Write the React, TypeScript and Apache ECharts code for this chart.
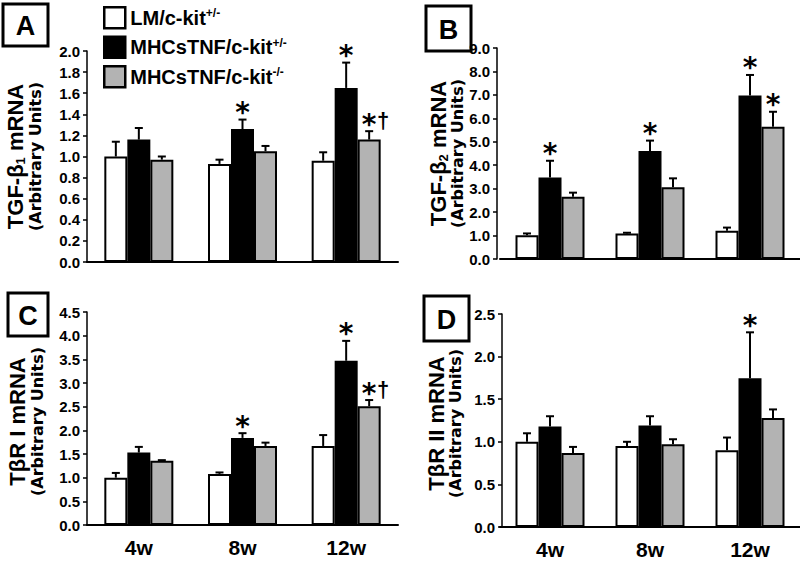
import React, { useEffect, useRef } from "react";
import * as echarts from "echarts";

// ---------- data ----------
const categories = ["4w", "8w", "12w"];
const legendBase = ["LM/c-kit", "MHCsTNF/c-kit", "MHCsTNF/c-kit"];
const legendSup = ["+/-", "+/-", "-/-"];
const seriesNames = legendBase.map((b, i) => b + legendSup[i]);
const barColors = ["#ffffff", "#000000", "#b3b3b3"];

// rows = series (LM+/-, MHCsTNF+/-, MHCsTNF-/-), columns = categories
const tgfb1Means = [
  [1.0, 0.93, 0.96],
  [1.16, 1.26, 1.65],
  [0.97, 1.05, 1.16],
];
const tgfb1Errs = [
  [0.14, 0.04, 0.08],
  [0.11, 0.09, 0.24],
  [0.03, 0.05, 0.08],
];
const tgfb1Marks = [
  ["", "", ""],
  ["", "*", "*"],
  ["", "", "*†"],
];

const tgfb2Means = [
  [1.01, 1.09, 1.21],
  [3.48, 4.61, 6.97],
  [2.66, 3.06, 5.64],
];
const tgfb2Errs = [
  [0.08, 0.03, 0.13],
  [0.71, 0.44, 0.88],
  [0.17, 0.38, 0.64],
];
const tgfb2Marks = [
  ["", "", ""],
  ["*", "*", "*"],
  ["", "", "*"],
];

const tbr1Means = [
  [1.0, 1.08, 1.67],
  [1.53, 1.84, 3.47],
  [1.36, 1.67, 2.51],
];
const tbr1Errs = [
  [0.1, 0.03, 0.23],
  [0.12, 0.1, 0.42],
  [0.01, 0.07, 0.13],
];
const tbr1Marks = [
  ["", "", ""],
  ["", "*", "*"],
  ["", "", "*†"],
];

const tbr2Means = [
  [1.0, 0.95, 0.9],
  [1.18, 1.19, 1.745],
  [0.87, 0.97, 1.28],
];
const tbr2Errs = [
  [0.1, 0.05, 0.15],
  [0.12, 0.11, 0.54],
  [0.07, 0.06, 0.1],
];
const tbr2Marks = [
  ["", "", ""],
  ["", "", "*"],
  ["", "", ""],
];

const yMax = [2.0, 9.0, 4.5, 2.5];
const yInterval = [0.2, 1.0, 0.5, 0.5];
const panelLetters = ["A", "B", "C", "D"];
const yNameMain = [
  ["TGF-β", "1", " mRNA"],
  ["TGF-β", "2", " mRNA"],
  ["TβR I mRNA", "", ""],
  ["TβR II mRNA", "", ""],
];
const yNameSub = "(Arbitrary Units)";

// ---------- layout ----------
const FONT = "Liberation Sans";
const WIDE_FONT = "DejaVu Sans";
const BAR_W = 23;
const grids = [
  { left: 87, top: 51, width: 311, height: 211 },
  { left: 500, top: 48, width: 309, height: 211 },
  { left: 87, top: 312, width: 311, height: 213 },
  { left: 500, top: 314, width: 309, height: 213 },
];
const yAxisOffsets = [0, 3, 0, -2];
const letterBoxes = [
  { x: 3, y: 4, w: 45, h: 42 },
  { x: 426, y: 6, w: 45, h: 45 },
  { x: 8, y: 293, w: 40, h: 43 },
  { x: 424, y: 296, w: 45, h: 45 },
];
const nameX = [
  [14, 35],
  [437, 457],
  [16, 37.5],
  [435, 455],
];
const nameYShift = [0, 0, 3, 3];

const panels = [
  { means: tgfb1Means, errs: tgfb1Errs, marks: tgfb1Marks },
  { means: tgfb2Means, errs: tgfb2Errs, marks: tgfb2Marks },
  { means: tbr1Means, errs: tbr1Errs, marks: tbr1Marks },
  { means: tbr2Means, errs: tbr2Errs, marks: tbr2Marks },
];

function buildOption() {
  const series: any[] = [];
  panels.forEach((p, pi) => {
    p.means.forEach((vals, si) => {
      series.push({
        type: "bar",
        name: seriesNames[si],
        xAxisIndex: pi,
        yAxisIndex: pi,
        data: vals,
        barWidth: BAR_W,
        barGap: "0%",
        itemStyle: { color: barColors[si], borderColor: "#000", borderWidth: 2 },
        silent: true,
      });
    });
    p.means.forEach((vals, si) => {
      const errs = p.errs[si];
      const marks = p.marks[si];
      series.push({
        type: "custom",
        name: "err-" + pi + "-" + si,
        xAxisIndex: pi,
        yAxisIndex: pi,
        z: 5,
        silent: true,
        data: vals.map((v, i) => [i, v, v + errs[i]]),
        encode: { x: 0, y: [1, 2] },
        renderItem: (params: any, api: any) => {
          const cat = api.value(0);
          const base = api.coord([cat, api.value(1)]);
          const cap = api.coord([cat, api.value(2)]);
          const x = base[0] + (si - 1) * BAR_W;
          const children: any[] = [
            {
              type: "line",
              shape: { x1: x, y1: base[1], x2: x, y2: cap[1] },
              style: { stroke: "#000", lineWidth: 2 },
            },
            {
              type: "line",
              shape: { x1: x - 4, y1: cap[1], x2: x + 4, y2: cap[1] },
              style: { stroke: "#000", lineWidth: 2 },
            },
          ];
          const mark = marks[params.dataIndex];
          if (mark) {
            children.push({
              type: "text",
              x: x,
              y: cap[1] - 7,
              style: {
                text: "*",
                fontFamily: WIDE_FONT,
                fontWeight: "bold",
                fontSize: 28,
                fill: "#000",
                align: "center",
                verticalAlign: "middle",
              },
            });
            if (mark.indexOf("†") >= 0) {
              children.push({
                type: "text",
                x: x + 14,
                y: cap[1] - 11,
                style: {
                  text: "†",
                  fontFamily: FONT,
                  fontWeight: "bold",
                  fontSize: 22,
                  fill: "#000",
                  align: "center",
                  verticalAlign: "middle",
                },
              });
            }
          }
          return { type: "group", children };
        },
      });
    });
  });

  const graphic: any[] = [];
  letterBoxes.forEach((b, i) => {
    graphic.push({
      type: "rect",
      shape: { x: b.x, y: b.y, width: b.w, height: b.h },
      style: { fill: "#fff", stroke: "#000", lineWidth: 3 },
    });
    graphic.push({
      type: "text",
      x: b.x + b.w / 2,
      y: b.y + b.h / 2 + 1,
      style: {
        text: panelLetters[i],
        fontFamily: FONT,
        fontWeight: "bold",
        fontSize: 27,
        fill: "#000",
        align: "center",
        verticalAlign: "middle",
      },
    });
  });
  grids.forEach((g, i) => {
    const cy = g.top + g.height / 2 + nameYShift[i];
    const [a, s, c] = yNameMain[i];
    graphic.push({
      type: "text",
      x: nameX[i][0],
      y: cy,
      rotation: Math.PI / 2,
      style: {
        text: s ? `{m|${a}}{s|${s}}{m|${c}}` : `{m|${a}}`,
        fill: "#000",
        align: "center",
        verticalAlign: "middle",
        rich: {
          m: { fontFamily: FONT, fontWeight: "bold", fontSize: 22, fill: "#000", lineHeight: 25, verticalAlign: "bottom" },
          s: { fontFamily: FONT, fontWeight: "bold", fontSize: 13, fill: "#000", lineHeight: 16, verticalAlign: "bottom" },
        },
      },
    });
    graphic.push({
      type: "text",
      x: nameX[i][1],
      y: cy,
      rotation: Math.PI / 2,
      style: {
        text: yNameSub,
        fontFamily: WIDE_FONT,
        fontWeight: "bold",
        fontSize: 16,
        fill: "#000",
        align: "center",
        verticalAlign: "middle",
      },
    });
  });

  return {
    animation: false,
    backgroundColor: "#fff",
    legend: {
      data: seriesNames,
      orient: "vertical",
      left: 103,
      top: 6,
      padding: 0,
      icon: "rect",
      itemWidth: 21,
      itemHeight: 21,
      itemGap: 6,
      selectedMode: false,
      itemStyle: { borderColor: "#000", borderWidth: 2.5 },
      formatter: (name: string) => {
        const i = seriesNames.indexOf(name);
        return `{n|${legendBase[i]}}{p|${legendSup[i]}}`;
      },
      textStyle: {
        padding: [0, 0, 0, 0],
        rich: {
          n: { fontFamily: FONT, fontWeight: "bold", fontSize: 20, color: "#000", lineHeight: 21 },
          p: { fontFamily: FONT, fontWeight: "bold", fontSize: 12, color: "#000", lineHeight: 12, verticalAlign: "top" },
        },
      },
    },
    grid: grids.map((g) => ({ ...g, containLabel: false })),
    xAxis: grids.map((g, i) => ({
      type: "category",
      gridIndex: i,
      data: categories,
      axisLine: { show: true, lineStyle: { color: "#000", width: 2 } },
      axisTick: { show: false },
      axisLabel: {
        show: i >= 2,
        fontFamily: FONT,
        fontWeight: "bold",
        fontSize: 21,
        color: "#000",
        margin: 12,
      },
      splitLine: { show: false },
    })),
    yAxis: grids.map((g, i) => ({
      type: "value",
      gridIndex: i,
      min: 0,
      max: yMax[i],
      interval: yInterval[i],
      offset: yAxisOffsets[i],
      axisLine: { show: true, lineStyle: { color: "#000", width: 1.5 } },
      axisTick: { show: true, length: 4, lineStyle: { color: "#000", width: 1.5 } },
      axisLabel: {
        fontFamily: FONT,
        fontWeight: "bold",
        fontSize: 15,
        color: "#000",
        margin: 7,
        formatter: (v: number) => v.toFixed(1),
      },
      splitLine: { show: false },
    })),
    graphic,
    series,
  };
}

export default function App() {
  const ref = useRef<HTMLDivElement>(null);
  useEffect(() => {
    if (!ref.current) return;
    const chart = echarts.init(ref.current, null, { renderer: "svg" });
    chart.setOption(buildOption() as any);
    return () => chart.dispose();
  }, []);
  return (
    <div
      ref={ref}
      style={{ position: "fixed", left: 0, top: 0, width: 800, height: 562, background: "#fff" }}
    />
  );
}
